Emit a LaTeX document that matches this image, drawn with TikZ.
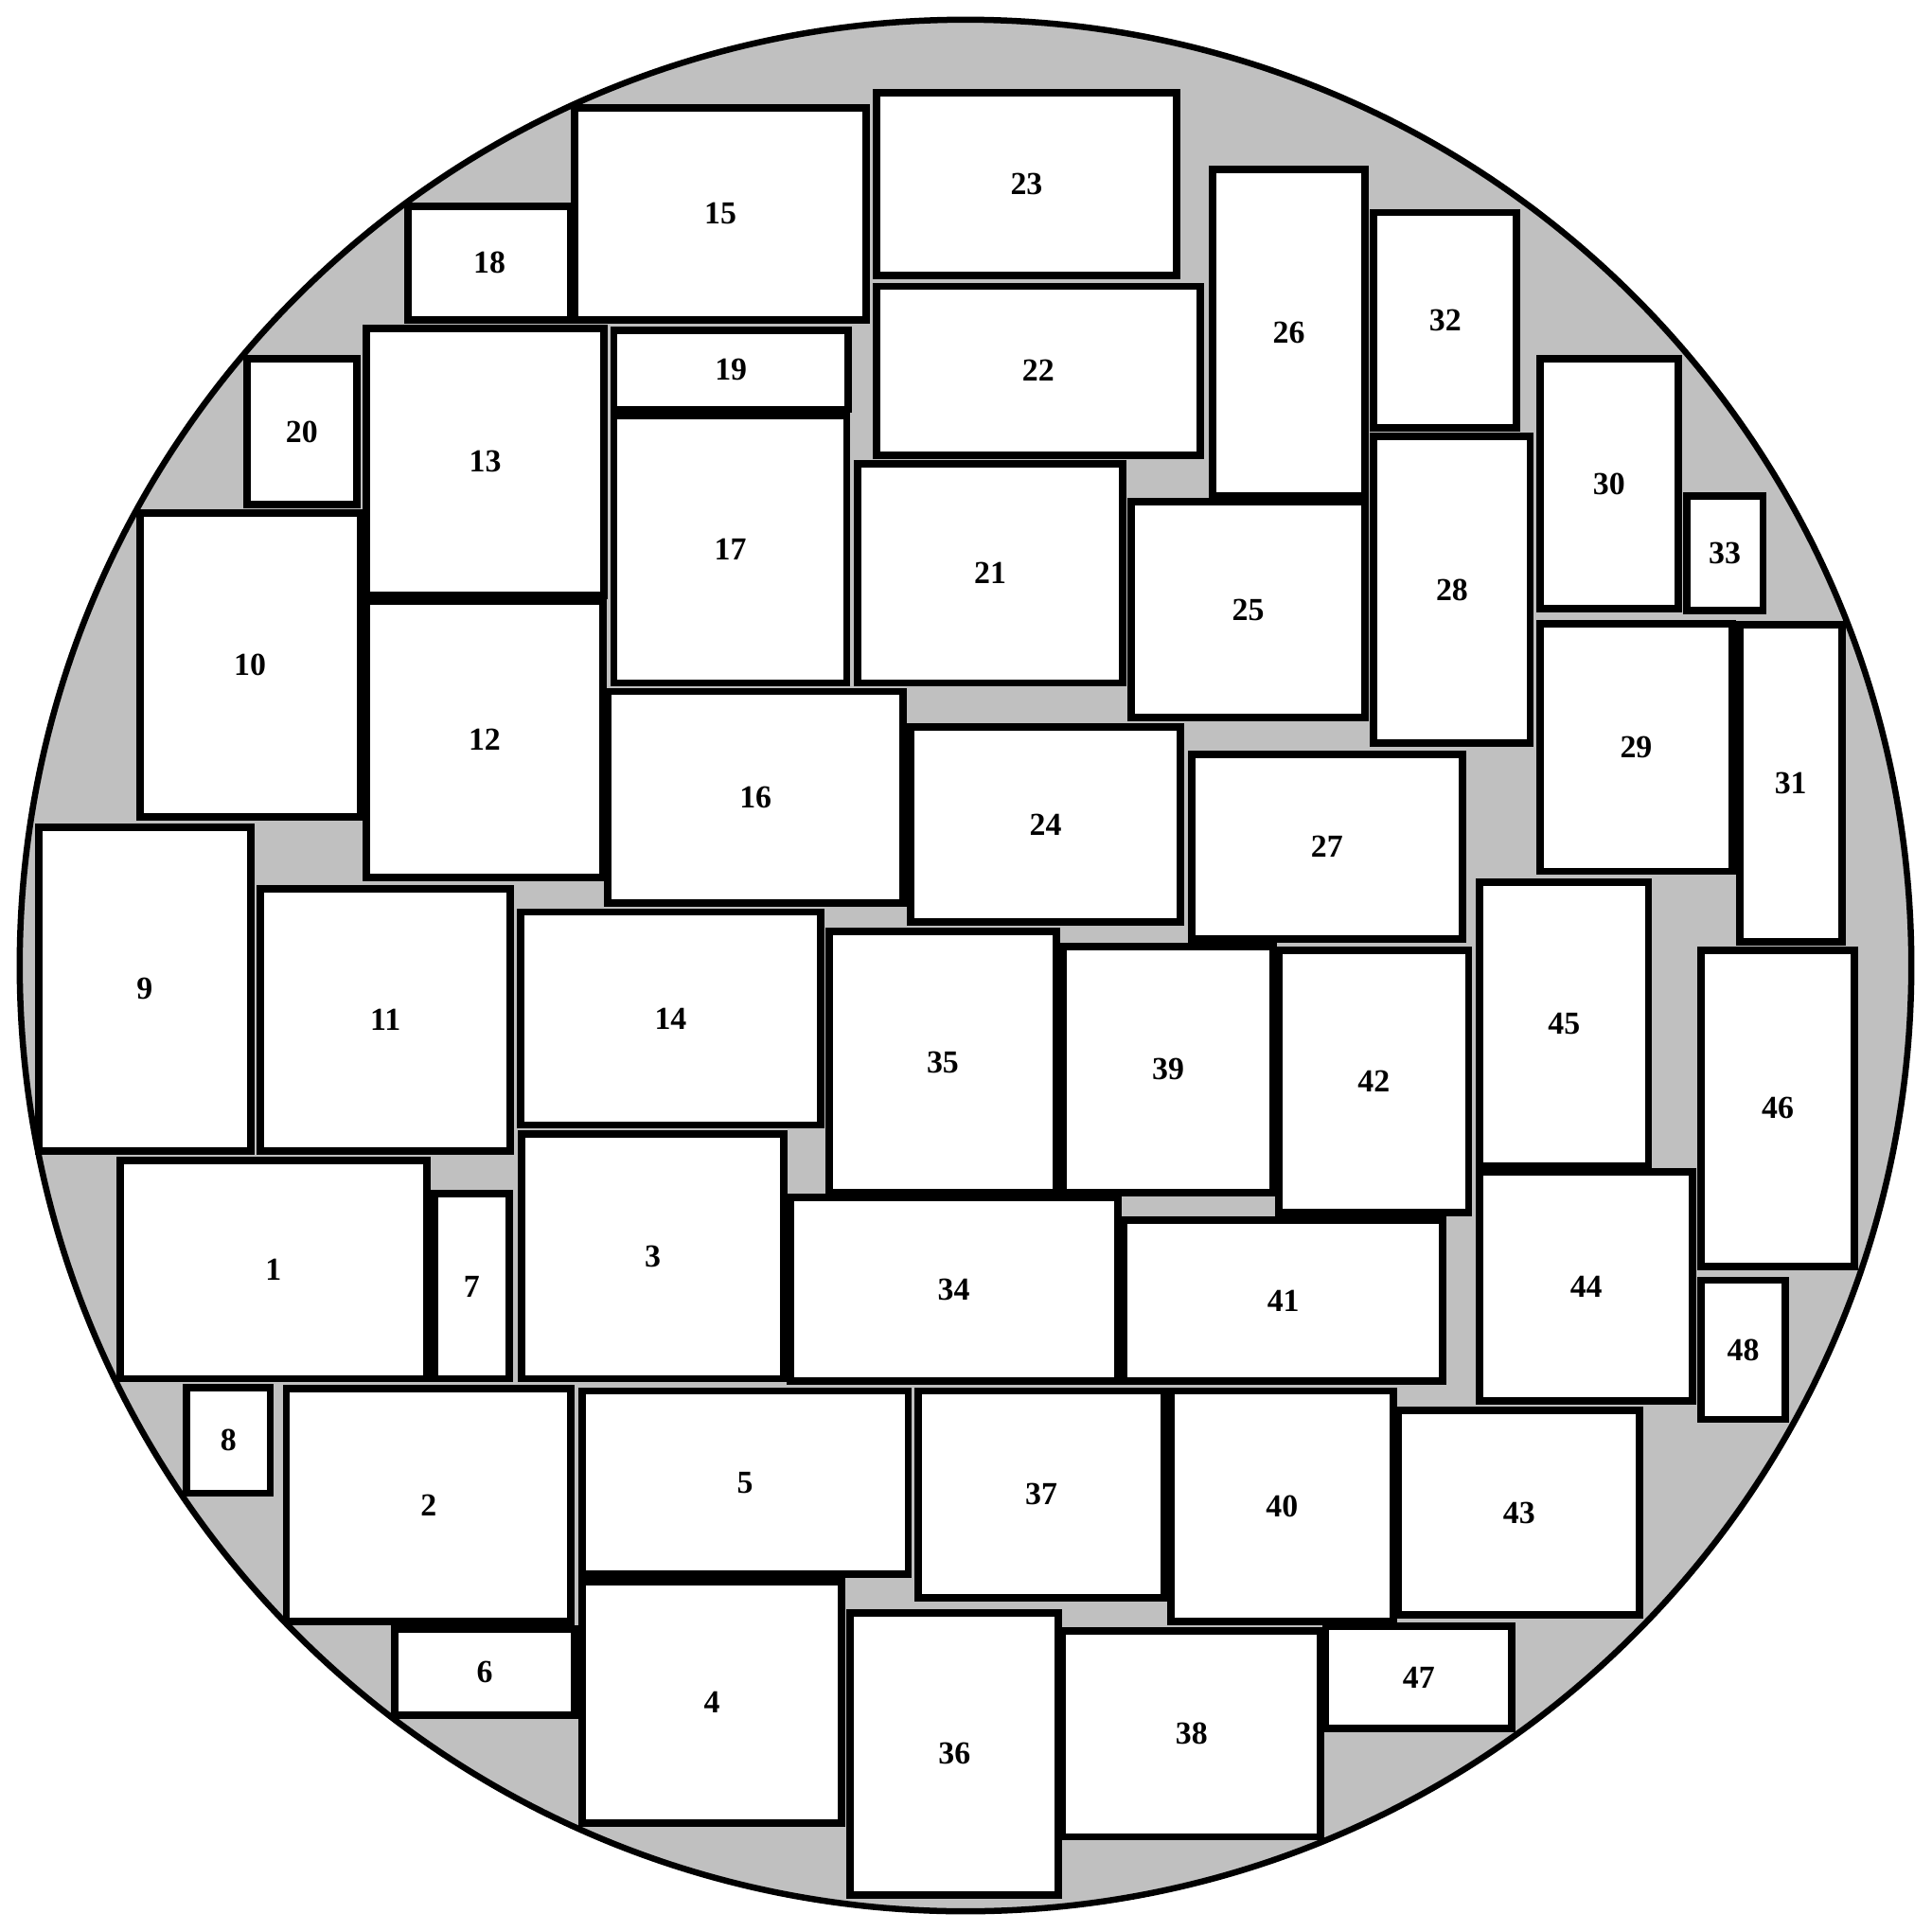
\documentclass[tikz,border=0pt]{standalone}
\usepackage{fontspec}
\setmainfont{Liberation Serif}
\definecolor{bggray}{RGB}{192,192,192}
\tikzset{
  rbox/.style={draw=black, fill=white, line width=6pt, line join=miter},
  lbl/.style={font=\fontsize{26}{26}\selectfont\bfseries, inner sep=0pt},
  rim/.style={draw=black, fill=bggray, line width=5pt}
}
\newcommand\rb[5]{%
  \draw[rbox] ({#2+1.5},{#3+1.5}) rectangle ({#4-1.5},{#5-1.5});
  \node[lbl] (n#1) at ({(#2+#4)/2},{(#3+#5)/2}) {#1};}
\begin{document}
\begin{tikzpicture}[x=1pt,y=-1pt]
\useasboundingbox (0,0) rectangle (1568,1568);
\path[rim] (784,784) circle (768);
\rb{1}{96}{941}{348}{1121}
\rb{2}{231}{1126}{465}{1318}
\rb{3}{422}{919}{638}{1121}
\rb{4}{471}{1283}{685}{1482}
\rb{5}{471}{1128}{739}{1280}
\rb{6}{319}{1321}{468}{1394}
\rb{7}{351}{968}{415}{1121}
\rb{8}{150}{1125}{221}{1214}
\rb{9}{30}{670}{205}{936}
\rb{10}{112}{415}{294}{665}
\rb{11}{210}{720}{416}{936}
\rb{12}{296}{487}{491}{714}
\rb{13}{296}{265}{492}{485}
\rb{14}{421}{739}{668}{915}
\rb{15}{465}{86}{705}{261}
\rb{16}{492}{560}{735}{735}
\rb{17}{497}{336}{689}{556}
\rb{18}{330}{166}{465}{261}
\rb{19}{497}{267}{690}{334}
\rb{20}{199}{290}{291}{411}
\rb{21}{695}{375}{913}{556}
\rb{22}{710}{231}{976}{371}
\rb{23}{710}{74}{957}{225}
\rb{24}{738}{589}{960}{750}
\rb{25}{917}{406}{1110}{584}
\rb{26}{983}{136}{1110}{404}
\rb{27}{966}{611}{1189}{764}
\rb{28}{1114}{353}{1244}{605}
\rb{29}{1249}{505}{1408}{709}
\rb{30}{1249}{290}{1364}{496}
\rb{31}{1411}{506}{1497}{766}
\rb{32}{1114}{171}{1233}{349}
\rb{33}{1368}{401}{1433}{497}
\rb{34}{640}{971}{909}{1123}
\rb{35}{672}{755}{859}{970}
\rb{36}{689}{1308}{861}{1540}
\rb{37}{744}{1128}{947}{1299}
\rb{38}{861}{1323}{1074}{1493}
\rb{39}{862}{767}{1035}{970}
\rb{40}{949}{1128}{1133}{1318}
\rb{41}{911}{989}{1173}{1123}
\rb{42}{1037}{770}{1194}{986}
\rb{43}{1134}{1144}{1333}{1313}
\rb{44}{1200}{950}{1376}{1139}
\rb{45}{1200}{715}{1340}{948}
\rb{46}{1380}{770}{1507}{1030}
\rb{47}{1075}{1319}{1229}{1405}
\rb{48}{1380}{1038}{1451}{1154}
\end{tikzpicture}
\end{document}
